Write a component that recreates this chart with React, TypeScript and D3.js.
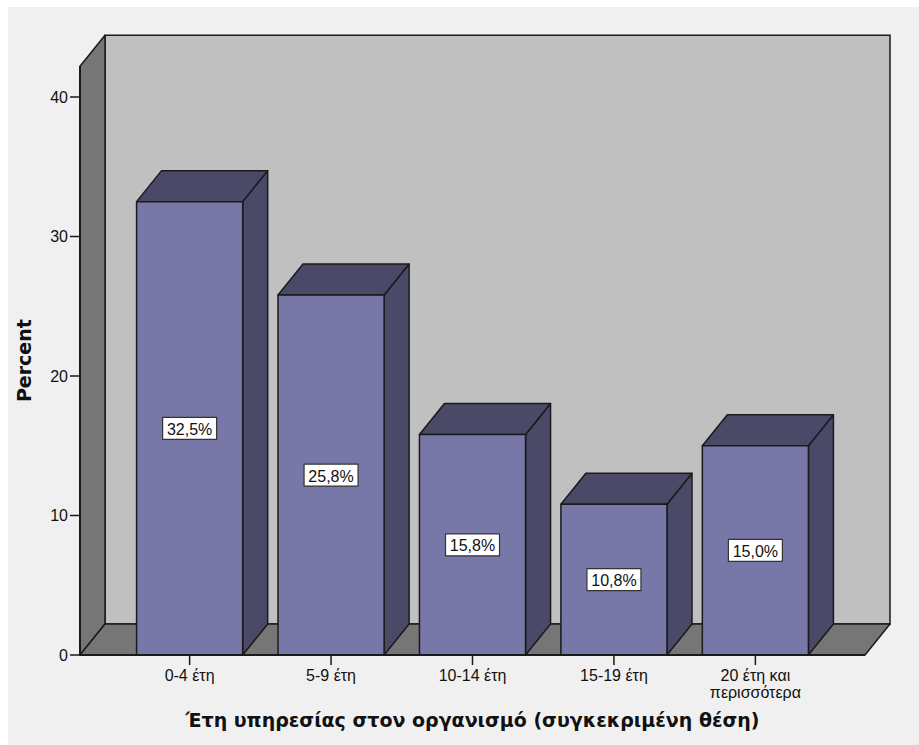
import React from 'react';
import * as d3 from 'd3';

// Chart values
const categories = ['0-4 έτη', '5-9 έτη', '10-14 έτη', '15-19 έτη', '20 έτη και\nπερισσότερα'];
const percents = [32.5, 25.8, 15.8, 10.8, 15.0];
const yTicks = [0, 10, 20, 30, 40];
const yMax = 42.2; // top of the back wall
const xTitle = 'Έτη υπηρεσίας στον οργανισμό (συγκεκριμένη θέση)';
const yTitle = 'Percent';

const W = 919;
const H = 745;

// box layout (front plane + depth offset)
const frontLeft = 80;
const frontRight = 865;
const floorY = 655;
const depthX = 25;
const depthY = 31;

const colors = {
  page: '#f0f0f0',
  back: '#c0c0c0',
  wall: '#767676',
  front: '#7878a8',
  dark: '#4a4a68',
  line: '#1a1a1a'
};

const fmt = (v: number) => d3.format('.1f')(v).replace('.', ',') + '%';

export default function App() {
  const x = d3.scaleBand<string>()
    .domain(categories)
    .range([frontLeft, frontRight])
    .paddingInner(0.25)
    .paddingOuter(0.4);

  const y = d3.scaleLinear().domain([0, 40]).range([floorY, 97]);

  const top = y(yMax);
  const pts = (p: [number, number][]) => p.map(d => d.join(',')).join(' ');

  const tickFont = '"Liberation Sans", Arial, sans-serif';
  const titleFont = '"DejaVu Sans", Verdana, sans-serif';

  return (
    <div style={{ position: 'absolute', left: 0, top: 0 }}>
      <svg width={W} height={H} style={{ display: 'block', background: '#fff' }}>
        <rect x={8} y={7} width={W - 8} height={H - 7} fill={colors.page} />

        {/* back wall */}
        <polygon
          points={pts([
            [frontLeft + depthX, top - depthY],
            [frontRight + depthX, top - depthY],
            [frontRight + depthX, floorY - depthY],
            [frontLeft + depthX, floorY - depthY]
          ])}
          fill={colors.back}
          stroke={colors.line}
          strokeWidth={1.5}
        />
        {/* left side wall */}
        <polygon
          points={pts([
            [frontLeft, top],
            [frontLeft + depthX, top - depthY],
            [frontLeft + depthX, floorY - depthY],
            [frontLeft, floorY]
          ])}
          fill={colors.wall}
          stroke={colors.line}
          strokeWidth={1.5}
          strokeLinejoin="round"
        />
        {/* floor */}
        <polygon
          points={pts([
            [frontLeft, floorY],
            [frontLeft + depthX, floorY - depthY],
            [frontRight + depthX, floorY - depthY],
            [frontRight, floorY]
          ])}
          fill={colors.wall}
          stroke={colors.line}
          strokeWidth={1.5}
          strokeLinejoin="round"
        />

        {/* bars */}
        {categories.map((c, i) => {
          const x0 = x(c)!;
          const x1 = x0 + x.bandwidth();
          const yt = y(percents[i]);
          const cx = (x0 + x1) / 2;
          const cy = (yt + floorY) / 2;
          return (
            <g key={c} stroke={colors.line} strokeWidth={1.5} strokeLinejoin="round">
              <polygon
                points={pts([[x1, yt], [x1 + depthX, yt - depthY], [x1 + depthX, floorY - depthY], [x1, floorY]])}
                fill={colors.dark}
              />
              <polygon
                points={pts([[x0, yt], [x0 + depthX, yt - depthY], [x1 + depthX, yt - depthY], [x1, yt]])}
                fill={colors.dark}
              />
              <rect x={x0} y={yt} width={x1 - x0} height={floorY - yt} fill={colors.front} />
              <rect x={cx - 27} y={cy - 11} width={54} height={22} fill="#fff" strokeWidth={1.2} stroke="#333" />
              <text
                x={cx}
                y={cy + 1}
                textAnchor="middle"
                dominantBaseline="central"
                stroke="none"
                fill="#111"
                fontFamily={tickFont}
                fontSize={16}
              >
                {fmt(percents[i])}
              </text>
            </g>
          );
        })}

        {/* y axis ticks */}
        {yTicks.map(t => (
          <g key={t}>
            <line x1={frontLeft - 10} x2={frontLeft} y1={y(t)} y2={y(t)} stroke={colors.line} strokeWidth={1.5} />
            <text
              x={frontLeft - 12}
              y={y(t)}
              textAnchor="end"
              dominantBaseline="central"
              fontFamily={tickFont}
              fontSize={16}
              fill="#111"
            >
              {t}
            </text>
          </g>
        ))}

        {/* x axis ticks */}
        {categories.map(c => {
          const cx = x(c)! + x.bandwidth() / 2;
          const lines = c.split('\n');
          return (
            <g key={c}>
              <line x1={cx} x2={cx} y1={floorY} y2={floorY + 10} stroke={colors.line} strokeWidth={1.5} />
              <text textAnchor="middle" fontFamily={tickFont} fontSize={16} fill="#111">
                {lines.map((l, j) => (
                  <tspan key={j} x={cx} y={681 + j * 17}>{l}</tspan>
                ))}
              </text>
            </g>
          );
        })}

        {/* front edges */}
        <line x1={frontLeft} x2={frontLeft} y1={top} y2={floorY} stroke={colors.line} strokeWidth={2} />
        <line x1={frontLeft} x2={frontRight} y1={floorY} y2={floorY} stroke={colors.line} strokeWidth={2} />

        {/* titles */}
        <text
          transform={`translate(31,${(top + floorY) / 2}) rotate(-90)`}
          textAnchor="middle"
          fontFamily={titleFont}
          fontWeight="bold"
          fontSize={19}
          fill="#111"
        >
          {yTitle}
        </text>
        <text
          x={(frontLeft + frontRight) / 2}
          y={727}
          textAnchor="middle"
          fontFamily={titleFont}
          fontWeight="bold"
          fontSize={19}
          fill="#111"
        >
          {xTitle}
        </text>
      </svg>
    </div>
  );
}
